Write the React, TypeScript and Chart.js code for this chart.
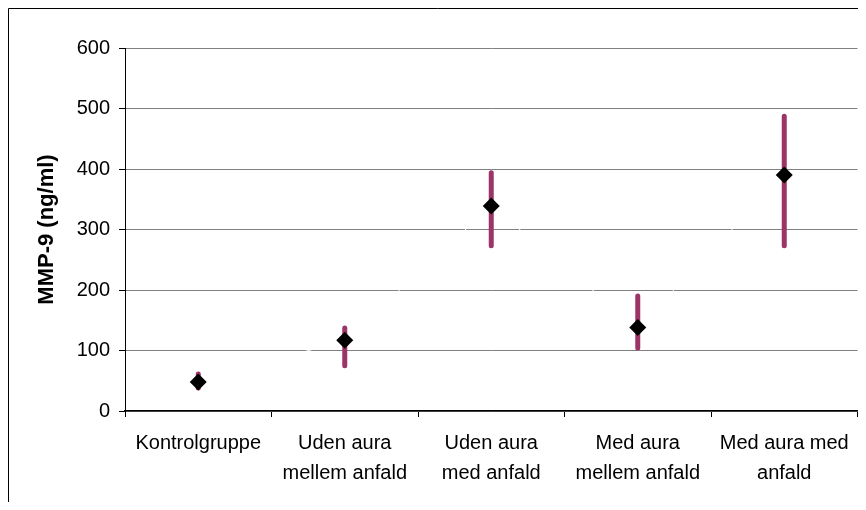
import React, { useEffect, useRef } from "react";
import { Chart, registerables } from "chart.js";

Chart.register(...registerables);

const categories: (string | string[])[] = [
  "Kontrolgruppe",
  ["Uden aura", "mellem anfald"],
  ["Uden aura", "med anfald"],
  ["Med aura", "mellem anfald"],
  ["Med aura med", "anfald"],
];
const means = [48, 117, 339, 138, 390];
const lows = [38, 75, 273, 104, 273];
const highs = [61, 137, 394, 190, 487];
const yTicks = [0, 100, 200, 300, 400, 500, 600];

const FONT = "'Liberation Sans', Arial, sans-serif";

const framePlugin = {
  id: "frame",
  beforeDraw(chart: any) {
    const ctx = chart.ctx;
    ctx.save();
    ctx.strokeStyle = "#000";
    ctx.lineWidth = 1;
    ctx.beginPath();
    ctx.moveTo(0.5, chart.height);
    ctx.lineTo(0.5, 0.5);
    ctx.lineTo(chart.width, 0.5);
    ctx.stroke();
    ctx.restore();
  },
  afterDraw(chart: any) {
    const { ctx, chartArea } = chart;
    ctx.save();
    ctx.strokeStyle = "#808080";
    ctx.lineWidth = 1;
    ctx.beginPath();
    const x = Math.round(chartArea.right) + 0.5;
    ctx.moveTo(x, chartArea.top);
    ctx.lineTo(x, chartArea.bottom);
    ctx.stroke();
    ctx.restore();
  },
};

const errorBarPlugin = {
  id: "errorBars",
  beforeDatasetsDraw(chart: any) {
    const { ctx } = chart;
    const xs = chart.scales.x;
    const ys = chart.scales.y;
    ctx.save();
    ctx.strokeStyle = "#9C3468";
    ctx.lineWidth = 5;
    ctx.lineCap = "round";
    for (let i = 0; i < means.length; i++) {
      const x = xs.getPixelForValue(i);
      ctx.beginPath();
      ctx.moveTo(x, ys.getPixelForValue(lows[i]));
      ctx.lineTo(x, ys.getPixelForValue(highs[i]));
      ctx.stroke();
    }
    ctx.restore();
  },
};

export default function App() {
  const ref = useRef<HTMLCanvasElement>(null);
  useEffect(() => {
    if (!ref.current) return;
    const chart = new Chart(ref.current, {
      type: "line",
      data: {
        labels: categories as any,
        datasets: [
          {
            data: means,
            borderColor: "#ffffff",
            borderWidth: 1,
            pointStyle: "rectRot",
            pointRadius: 8.5,
            pointBackgroundColor: "#000",
            pointBorderColor: "#000",
            pointBorderWidth: 0,
          },
        ],
      },
      options: {
        responsive: false,
        animation: false,
        layout: { padding: { top: 40, right: 5, left: 0, bottom: 0 } },
        plugins: {
          legend: { display: false },
          tooltip: { enabled: false },
        },
        scales: {
          x: {
            offset: true,
            grid: {
              offset: true,
              drawOnChartArea: false,
              drawTicks: true,
              tickLength: 6,
              tickColor: "#000",
            },
            border: { color: "#000", width: 1.5 },
            ticks: {
              color: "#000",
              font: { family: FONT, size: 20, lineHeight: 1.475 },
              padding: 12,
              maxRotation: 0,
              autoSkip: false,
            },
            afterFit: (s: any) => {
              s.height = 91;
            },
          },
          y: {
            min: 0,
            max: 600,
            afterBuildTicks: (s: any) => {
              s.ticks = yTicks.map((v) => ({ value: v }));
            },
            grid: {
              color: "#808080",
              tickColor: "#000",
              tickLength: 6,
              lineWidth: 1,
            },
            border: { color: "#000", width: 1 },
            ticks: {
              color: "#000",
              font: { family: FONT, size: 20 },
              padding: 9,
            },
            title: {
              display: true,
              text: "MMP-9 (ng/ml)",
              color: "#000",
              font: { family: FONT, size: 22, weight: "bold" },
              padding: { top: 26, bottom: 0 },
            },
            afterFit: (s: any) => {
              s.width = 117;
            },
          },
        },
      },
      plugins: [framePlugin, errorBarPlugin],
    });
    return () => chart.destroy();
  }, []);
  return (
    <div style={{ width: 858, height: 494 }}>
      <canvas ref={ref} width={858} height={494} style={{ display: "block" }} />
    </div>
  );
}
